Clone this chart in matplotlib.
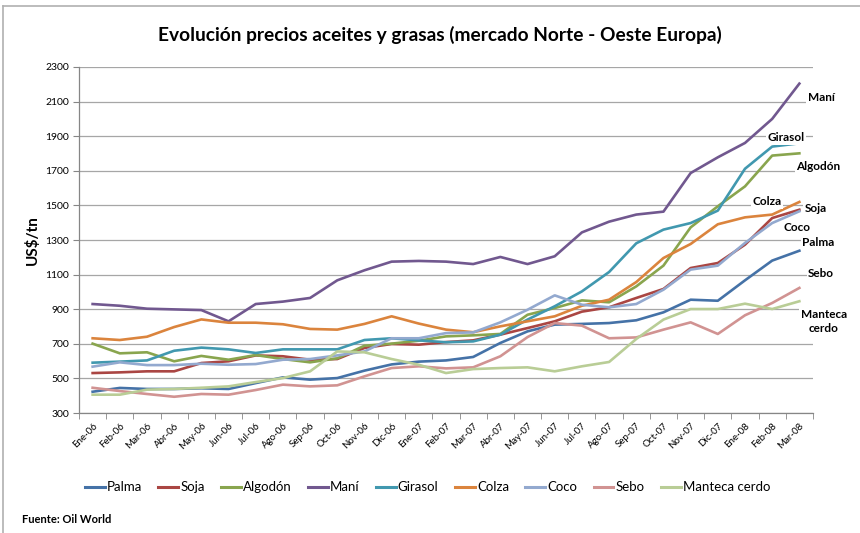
import matplotlib.pyplot as plt
from matplotlib.lines import Line2D

plt.rcParams['font.family'] = ['Lato', 'DejaVu Sans']

meses = ['Ene-06', 'Feb-06', 'Mar-06', 'Abr-06', 'May-06', 'Jun-06', 'Jul-06', 'Ago-06', 'Sep-06',
         'Oct-06', 'Nov-06', 'Dic-06', 'Ene-07', 'Feb-07', 'Mar-07', 'Abr-07', 'May-07', 'Jun-07',
         'Jul-07', 'Ago-07', 'Sep-07', 'Oct-07', 'Nov-07', 'Dic-07', 'Ene-08', 'Feb-08', 'Mar-08']

palma = [423, 445, 439, 439, 443, 439, 473, 506, 493, 502, 545, 581, 597, 604, 624, 705, 772,
         811, 815, 820, 836, 882, 955, 949, 1067, 1181, 1238]
soja = [531, 535, 541, 541, 589, 599, 633, 628, 608, 612, 676, 699, 695, 710, 720, 753, 791,
        830, 886, 911, 965, 1017, 1138, 1167, 1273, 1427, 1475]
algodon = [701, 645, 651, 599, 630, 608, 635, 612, 593, 616, 689, 701, 718, 743, 749, 757, 868,
           907, 951, 940, 1032, 1152, 1373, 1495, 1610, 1788, 1801]
mani = [930, 920, 903, 899, 895, 830, 930, 944, 965, 1067, 1125, 1175, 1179, 1175, 1161, 1202,
        1161, 1206, 1344, 1406, 1447, 1464, 1687, 1778, 1861, 2000, 2204]
girasol = [591, 597, 604, 660, 678, 668, 647, 668, 668, 668, 722, 732, 720, 709, 714, 753, 840,
           917, 1003, 1115, 1281, 1360, 1398, 1470, 1712, 1840, 1859]
colza = [732, 722, 741, 797, 841, 822, 822, 813, 786, 782, 815, 859, 817, 782, 767, 801, 830,
         859, 920, 955, 1057, 1196, 1277, 1391, 1431, 1447, 1520]
coco = [568, 593, 577, 577, 585, 579, 583, 608, 612, 633, 656, 732, 732, 762, 766, 824, 897,
        980, 926, 911, 930, 1013, 1129, 1152, 1283, 1398, 1466]
sebo = [446, 427, 410, 394, 410, 406, 433, 464, 454, 460, 512, 560, 570, 558, 564, 628, 739,
        820, 805, 732, 737, 782, 824, 757, 865, 936, 1023]
manteca = [406, 406, 435, 439, 446, 454, 479, 502, 541, 656, 651, 612, 579, 531, 554, 560, 564,
           541, 570, 595, 728, 840, 901, 901, 932, 901, 946]

nombres = ['Palma', 'Soja', 'Algodón', 'Maní', 'Girasol', 'Colza', 'Coco', 'Sebo', 'Manteca cerdo']
series = [palma, soja, algodon, mani, girasol, colza, coco, sebo, manteca]
colores = ['#4572A7', '#AA4643', '#89A54E', '#71588F', '#4198AF', '#DB843D', '#93A9CF',
           '#D19392', '#B9CD96']

# etiquetas a la derecha (x en indice de mes, y en US$/tn)
etiquetas = ['Maní', 'Girasol', 'Algodón', 'Colza', 'Soja', 'Coco', 'Palma', 'Sebo', 'Manteca\ncerdo']
etq_x = [26.8, 25.5, 26.7, 24.8, 26.6, 25.9, 26.7, 26.8, 26.9]
etq_y = [2123, 1891, 1724, 1522, 1481, 1371, 1285, 1105, 827]

fig = plt.figure(figsize=(8.6, 5.33), dpi=100)
ax = fig.add_axes([0.0919, 0.2251, 0.8534, 0.6492])

x = list(range(len(meses)))
for nombre, datos, col in zip(nombres, series, colores):
    ax.plot(x, datos, color=col, lw=1.9, label=nombre, zorder=3)

ax.set_xlim(-0.5, len(meses) - 0.5)
ax.set_ylim(300, 2300)
ax.set_yticks(range(300, 2301, 200))
ax.tick_params(axis='y', labelsize=7.5, length=4, color='#868686', pad=3)
ax.set_xticks(x)
ax.set_xticklabels(meses, rotation=45, ha='right', rotation_mode='anchor', fontsize=7)
ax.tick_params(axis='x', length=0, pad=6)
ax.set_xticks([i - 0.5 for i in range(len(meses) + 1)], minor=True)
ax.tick_params(axis='x', which='minor', length=4, color='#868686')
ax.grid(axis='y', color='#A6A6A6', lw=0.9, zorder=0)
for s in ['top', 'right']:
    ax.spines[s].set_visible(False)
for s in ['left', 'bottom']:
    ax.spines[s].set_color('#868686')
    ax.spines[s].set_linewidth(0.9)

ax.set_ylabel('US$/tn', fontsize=11, fontweight='bold', labelpad=4)

for t, tx, ty in zip(etiquetas, etq_x, etq_y):
    ax.text(tx, ty, t, fontsize=8.5, fontweight='bold', ha='center', va='center',
            clip_on=False, zorder=4, linespacing=1.3,
            bbox=dict(facecolor='white', edgecolor='none', pad=1.0))

fig.text(0.512, 0.934, 'Evolución precios aceites y grasas (mercado Norte - Oeste Europa)',
         ha='center', va='center', fontsize=13.8, fontweight='bold')

handles = [Line2D([0], [0], color=c, lw=2.2) for c in colores]
fig.legend(handles, nombres, loc='center', bbox_to_anchor=(0.497, 0.086), ncol=9,
           frameon=False, fontsize=9.5, handlelength=1.5, handletextpad=0.15, columnspacing=1.25)

fig.text(0.026, 0.026, 'Fuente: Oil World', fontsize=8, fontweight='bold', ha='left', va='center')

# marco del grafico
fig.add_artist(Line2D([0.0035, 1.0], [0.989, 0.989], color='#B0B0B0', lw=1.2))
fig.add_artist(Line2D([0.0035, 0.0035], [0.0, 0.989], color='#B0B0B0', lw=1.2))

fig.savefig('out.png', dpi=100)
